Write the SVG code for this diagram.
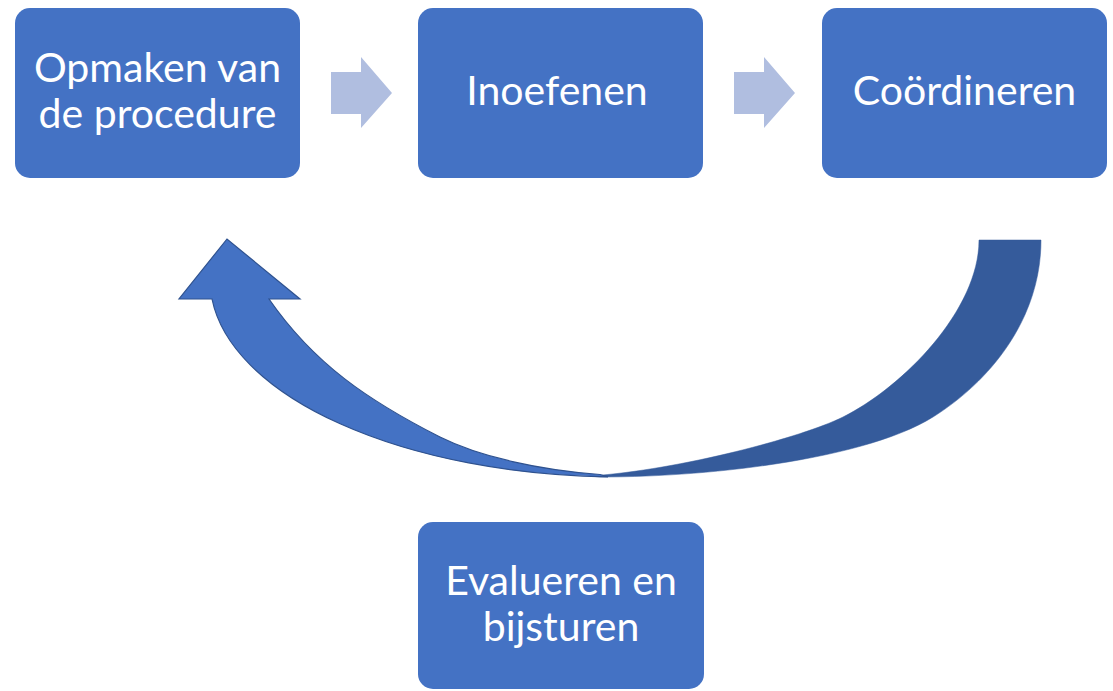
<svg xmlns="http://www.w3.org/2000/svg" width="1113" height="691" viewBox="0 0 1113 691">
<style>
.box{fill:#4472C4;}
.lbl{font-family:Lato,"Open Sans",sans-serif;font-size:41px;fill:#FFFFFF;text-anchor:middle;}
.step{fill:#B0BEE0;}
.back{fill:#355B9B;stroke:#355B9B;stroke-width:0.5;}
.front{fill:#4472C4;stroke:#2F528F;stroke-width:1.2;stroke-linejoin:miter;}
</style>
<rect width="1113" height="691" fill="#FFFFFF"/>
<g id="connectors">
<path class="step" d="M331,72 L361,72 L361,57 L392,93 L361,128 L361,114 L331,114 Z"/>
<path class="step" d="M734,72 L764,72 L764,57 L795,93 L764,128 L764,114 L734,114 Z"/>
<path class="back" d="M1041,240 C1041,320 989,382 933,417 C869,457 720,477 600,477 L590,476 C680,470 803,437 843,417 C903,387 979,310 979,240 Z"/>
<path class="front" d="M212,299 A410,197 0 0 0 608,476.8 L600,474.5 C540,470 480,457 440,437 C369,401 314,364 269,299 L300,299 L227,239 L179,299 Z"/>
</g>
<g id="node1">
<rect class="box" x="15" y="8" width="285" height="170" rx="15"/>
<text class="lbl" x="157.5" y="82">Opmaken van</text>
<text class="lbl" x="157.5" y="128">de procedure</text>
</g>
<g id="node2">
<rect class="box" x="418" y="8" width="285" height="170" rx="15"/>
<text class="lbl" x="557" y="105">Inoefenen</text>
</g>
<g id="node3">
<rect class="box" x="822" y="8" width="285" height="170" rx="15"/>
<text class="lbl" x="964.5" y="105">Coördineren</text>
</g>
<g id="node4">
<rect class="box" x="418" y="522" width="286" height="167" rx="15"/>
<text class="lbl" x="561" y="595">Evalueren en</text>
<text class="lbl" x="561" y="641">bijsturen</text>
</g>
</svg>
